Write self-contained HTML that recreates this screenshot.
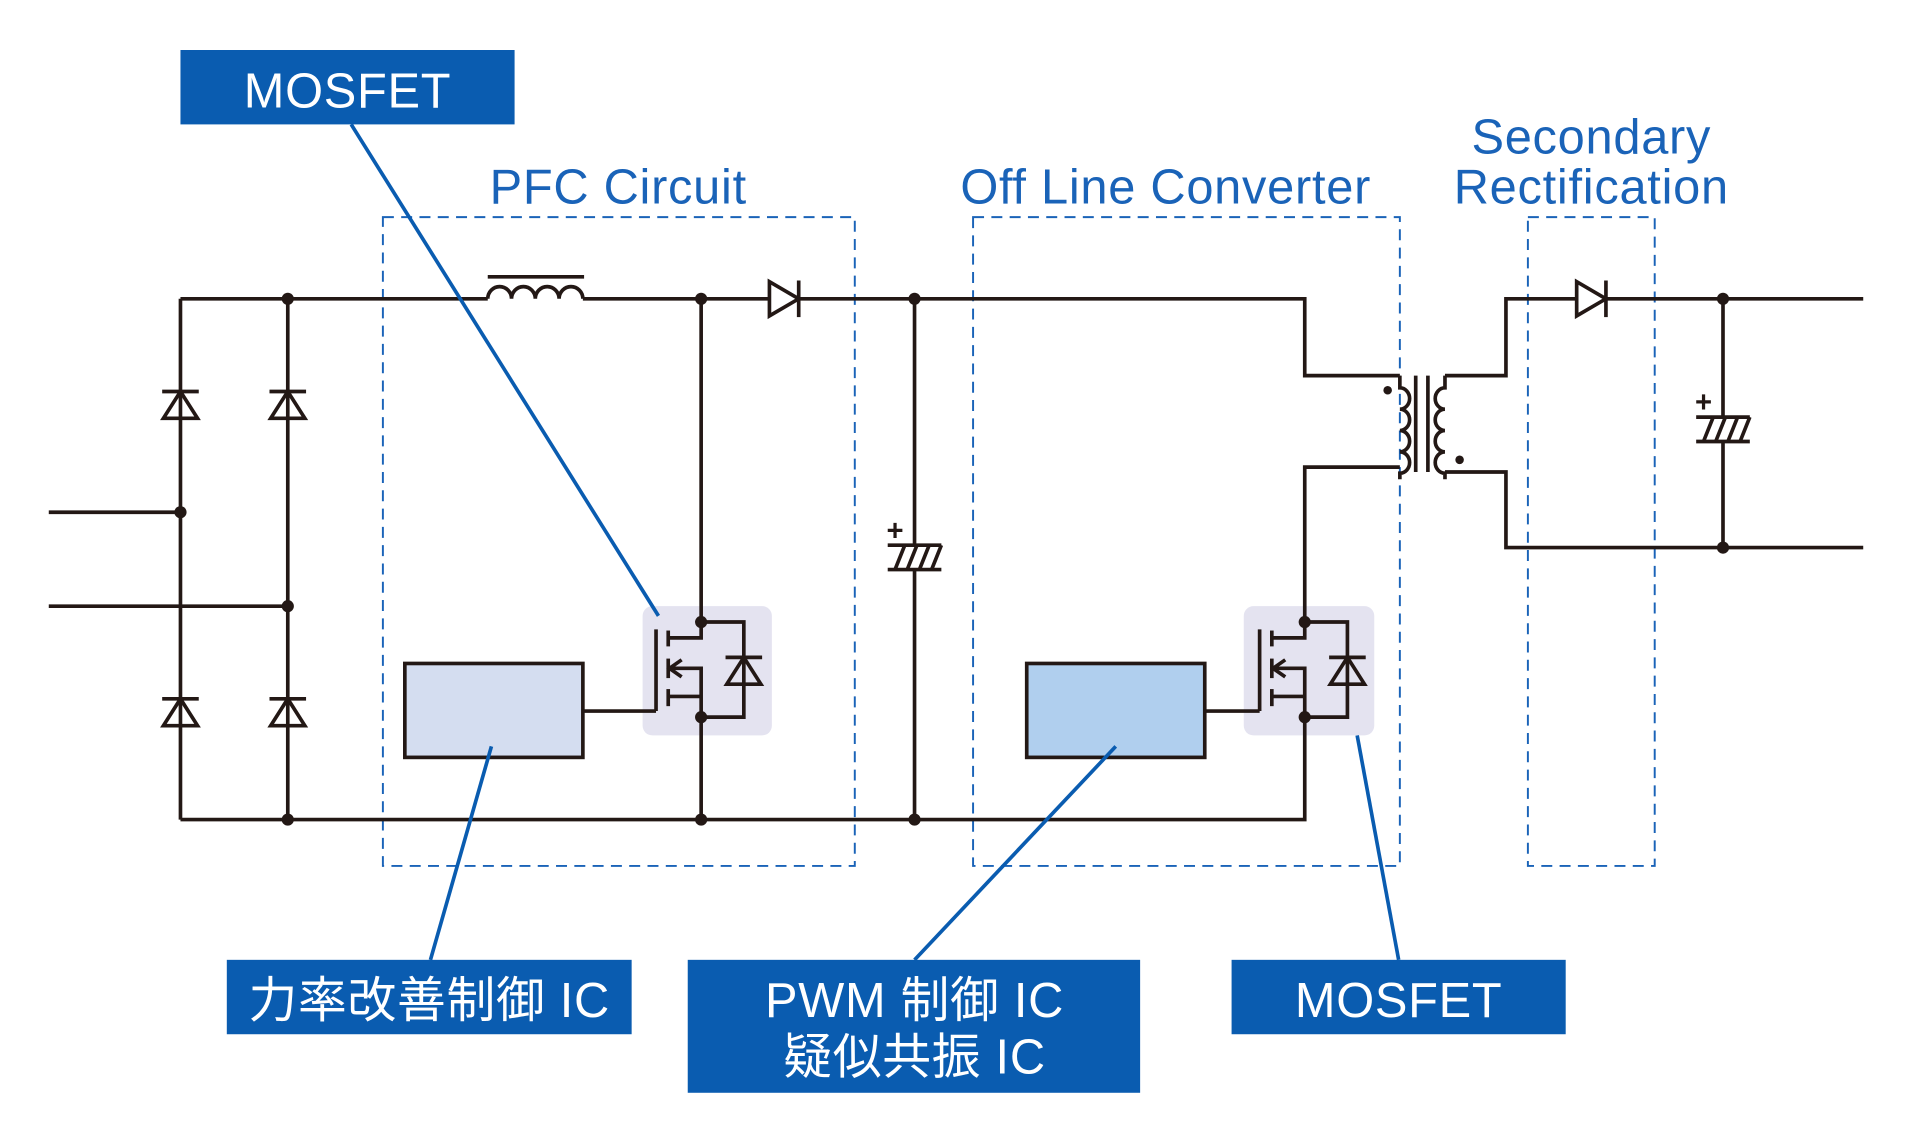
<!DOCTYPE html>
<html><head><meta charset="utf-8"><style>
html,body{margin:0;padding:0;background:#fff;}
svg{display:block;}
.w{stroke:#231815;stroke-width:3;fill:none;}
.d{stroke:#1a63b8;stroke-width:1.6;fill:none;stroke-dasharray:9 6;}
.bl{stroke:#0a5cb0;stroke-width:3;fill:none;}
.lab{font-family:"Liberation Sans","Noto Sans CJK JP",sans-serif;fill:#1a63b8;font-size:40px;letter-spacing:0.6px;text-anchor:middle;}
.wt{font-family:"Liberation Sans","Noto Sans CJK JP",sans-serif;fill:#fff;font-size:40px;letter-spacing:0.6px;text-anchor:middle;}
</style></head><body>
<svg width="1912" height="1144" viewBox="0 0 1568 938" preserveAspectRatio="none" xmlns="http://www.w3.org/2000/svg">
<defs>
<g id="dup">
<polygon points="-14,10 14,10 0,-12" fill="none" stroke="#231815" stroke-width="3"/>
<line x1="-15" y1="-12" x2="15" y2="-12" stroke="#231815" stroke-width="3"/>
</g>
<g id="drt">
<polygon points="-12,-14 -12,14 12,0" fill="#fff" stroke="#231815" stroke-width="3"/>
<line x1="12" y1="-15" x2="12" y2="15" stroke="#231815" stroke-width="3"/>
</g>
<g id="mos">
<line class="w" x1="-37" y1="6" x2="-37" y2="73"/>
<line class="w" x1="-27" y1="7" x2="-27" y2="20"/>
<line class="w" x1="-27" y1="30" x2="-27" y2="46"/>
<line class="w" x1="-27" y1="55" x2="-27" y2="69"/>
<polyline class="w" points="0,0 0,13 -27,13"/>
<polyline class="w" points="-27,38 0,38 0,78"/>
<polyline class="w" points="-16,31 -26,38 -16,45"/>
<line class="w" x1="-27" y1="61" x2="0" y2="61"/>
<polyline class="w" points="0,0 35,0 35,78 0,78"/>
<polygon points="21,51 49,51 35,29" fill="none" stroke="#231815" stroke-width="3"/>
<line class="w" x1="20" y1="29" x2="50" y2="29"/>
<circle cx="0" cy="0" r="5" fill="#231815"/>
<circle cx="0" cy="78" r="5" fill="#231815"/>
</g>
<g id="cap">
<line class="w" x1="-22" y1="-10" x2="22" y2="-10"/>
<line class="w" x1="-22" y1="10" x2="22" y2="10"/>
<line class="w" x1="-16" y1="10" x2="-8" y2="-10"/>
<line class="w" x1="-6" y1="10" x2="2" y2="-10"/>
<line class="w" x1="4" y1="10" x2="12" y2="-10"/>
<line class="w" x1="14" y1="10" x2="22" y2="-10"/>
<text x="-16" y="-14" font-family="Liberation Sans,sans-serif" font-size="24" font-weight="bold" fill="#231815" text-anchor="middle">+</text>
</g>
</defs>

<rect class="d" x="314" y="178" width="387" height="532"/>
<rect class="d" x="798" y="178" width="350" height="532"/>
<rect class="d" x="1253" y="178" width="104" height="532"/>
<text class="lab" x="507" y="167">PFC Circuit</text>
<text class="lab" x="956" y="167">Off Line Converter</text>
<text class="lab" x="1305" y="126">Secondary</text>
<text class="lab" x="1305" y="167">Rectification</text>

<rect x="527" y="497" width="106" height="106" rx="8" fill="#e4e3f0"/>
<rect x="1020" y="497" width="107" height="106" rx="8" fill="#e4e3f0"/>

<polyline class="w" points="148,245 400,245"/>
<polyline class="w" points="478,245 1070,245 1070,308 1148,308"/>
<polyline class="w" points="1148,383 1070,383 1070,512"/>
<polyline class="w" points="148,672 1070,672 1070,590"/>
<line class="w" x1="148" y1="245" x2="148" y2="672"/>
<line class="w" x1="236" y1="245" x2="236" y2="672"/>
<line class="w" x1="40" y1="420" x2="148" y2="420"/>
<line class="w" x1="40" y1="497" x2="236" y2="497"/>
<use href="#dup" x="148" y="333"/><use href="#dup" x="236" y="333"/>
<use href="#dup" x="148" y="585"/><use href="#dup" x="236" y="585"/>
<path class="w" d="M400,245 a9.75,10 0 0 1 19.5,0 a9.75,10 0 0 1 19.5,0 a9.75,10 0 0 1 19.5,0 a9.75,10 0 0 1 19.5,0"/>
<line class="w" x1="400" y1="227" x2="479" y2="227"/>
<line class="w" x1="575" y1="245" x2="575" y2="510"/>
<line class="w" x1="575" y1="588" x2="575" y2="672"/>
<use href="#drt" x="643" y="245"/>
<line class="w" x1="750" y1="245" x2="750" y2="672"/>
<rect x="726" y="446" width="48" height="22" fill="#fff"/>
<use href="#cap" x="750" y="457"/>
<use href="#mos" x="575" y="510"/>
<use href="#mos" x="1070" y="510"/>
<rect x="332" y="544" width="146" height="77" fill="#d4ddf0" stroke="#231815" stroke-width="3"/>
<line class="w" x1="478" y1="583" x2="538" y2="583"/>
<rect x="842" y="544" width="146" height="77" fill="#b0cfee" stroke="#231815" stroke-width="3"/>
<line class="w" x1="988" y1="583" x2="1033" y2="583"/>
<path class="w" d="M1148,308 v10 a8,8.75 0 0 1 0,17.5 a8,8.75 0 0 1 0,17.5 a8,8.75 0 0 1 0,17.5 a8,8.75 0 0 1 0,17.5 v5"/>
<line class="w" x1="1161" y1="308" x2="1161" y2="387"/>
<line class="w" x1="1171" y1="308" x2="1171" y2="387"/>
<path class="w" d="M1185,308 v10 a8,8.75 0 0 0 0,17.5 a8,8.75 0 0 0 0,17.5 a8,8.75 0 0 0 0,17.5 a8,8.75 0 0 0 0,17.5 v5"/>
<circle cx="1138" cy="320" r="3.5" fill="#231815"/>
<circle cx="1197" cy="377" r="3.5" fill="#231815"/>
<polyline class="w" points="1185,308 1235,308 1235,245 1528,245"/>
<polyline class="w" points="1185,387 1235,387 1235,449 1528,449"/>
<use href="#drt" x="1305" y="245"/>
<line class="w" x1="1413" y1="245" x2="1413" y2="449"/>
<rect x="1389" y="341" width="48" height="22" fill="#fff"/>
<use href="#cap" x="1413" y="352"/>
<g fill="#231815">
<circle cx="236" cy="245" r="5"/><circle cx="236" cy="672" r="5"/>
<circle cx="148" cy="420" r="5"/><circle cx="236" cy="497" r="5"/>
<circle cx="575" cy="245" r="5"/><circle cx="575" cy="672" r="5"/>
<circle cx="750" cy="245" r="5"/><circle cx="750" cy="672" r="5"/>
<circle cx="1413" cy="245" r="5"/><circle cx="1413" cy="449" r="5"/>
</g>
<line class="bl" x1="288" y1="102" x2="540" y2="505"/>
<line class="bl" x1="353" y1="787" x2="403" y2="612"/>
<line class="bl" x1="750" y1="787" x2="915" y2="612"/>
<line class="bl" x1="1147" y1="787" x2="1113" y2="603"/>
<rect x="148" y="41" width="274" height="61" fill="#0a5cb0"/>
<text class="wt" x="285" y="88">MOSFET</text>
<rect x="186" y="787" width="332" height="61" fill="#0a5cb0"/>
<text class="wt" x="352" y="834">力率改善制御 IC</text>
<rect x="564" y="787" width="371" height="109" fill="#0a5cb0"/>
<text class="wt" x="750" y="834">PWM 制御 IC</text>
<text class="wt" x="750" y="880">疑似共振 IC</text>
<rect x="1010" y="787" width="274" height="61" fill="#0a5cb0"/>
<text class="wt" x="1147" y="834">MOSFET</text>
</svg>
</body></html>
